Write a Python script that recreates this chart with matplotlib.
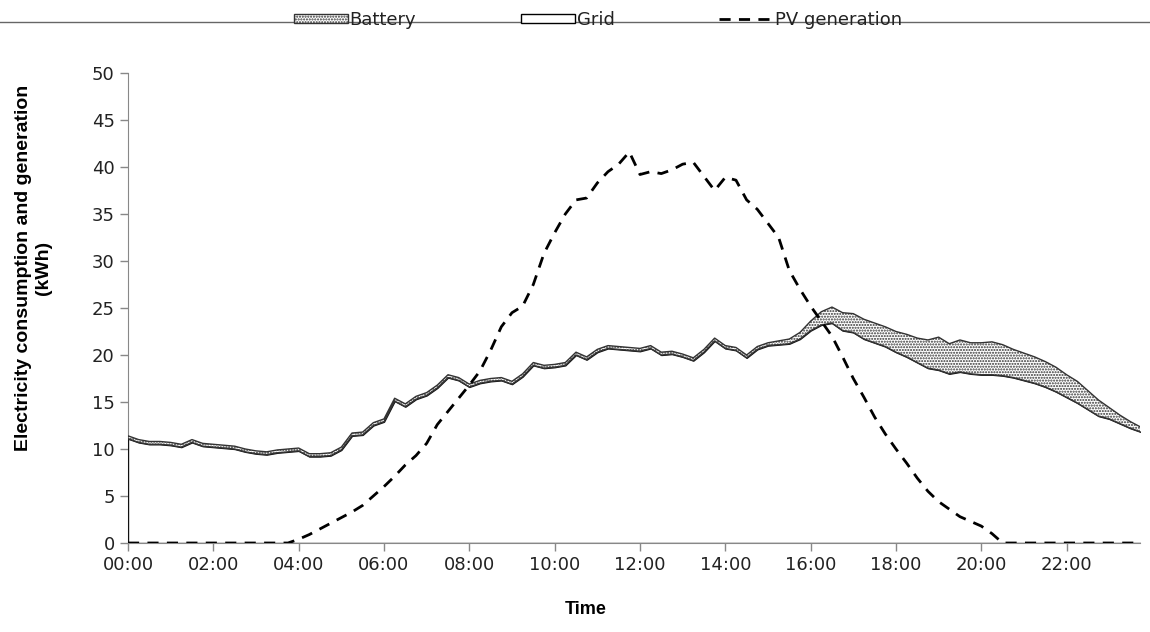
import numpy as np
import matplotlib
matplotlib.use('Agg')
import matplotlib.pyplot as plt
from matplotlib.patches import Patch
from matplotlib.lines import Line2D

# 15-minute readings over one day (hours from midnight)
hours = np.arange(96) * 0.25

grid = [11.1, 10.7, 10.5, 10.5, 10.4, 10.2, 10.7, 10.3, 10.2, 10.1, 10.0, 9.7,
        9.5, 9.4, 9.6, 9.7, 9.8, 9.2, 9.2, 9.3, 9.9, 11.4, 11.5, 12.5,
        12.9, 15.1, 14.5, 15.3, 15.7, 16.5, 17.6, 17.3, 16.6, 17.0, 17.2, 17.3,
        16.9, 17.7, 18.9, 18.6, 18.7, 18.9, 20.0, 19.5, 20.3, 20.7, 20.6, 20.5,
        20.4, 20.7, 20.0, 20.1, 19.8, 19.4, 20.3, 21.5, 20.7, 20.5, 19.7, 20.6,
        21.0, 21.1, 21.2, 21.7, 22.6, 23.2, 23.4, 22.6, 22.4, 21.7, 21.3, 20.9,
        20.3, 19.8, 19.2, 18.6, 18.4, 18.0, 18.2, 18.0, 17.9, 17.9, 17.8, 17.6,
        17.3, 17.0, 16.6, 16.1, 15.5, 14.9, 14.2, 13.5, 13.2, 12.7, 12.2, 11.8]

battery = [0.3] * 61 + [0.4, 0.5, 0.7, 1.0, 1.4, 1.7, 1.9, 2.0, 2.1, 2.1, 2.1,
                        2.2, 2.4, 2.6, 3.0, 3.5, 3.2, 3.4, 3.3, 3.4, 3.5, 3.3,
                        3.0, 2.9, 2.8, 2.7, 2.6, 2.4, 2.3, 2.0, 1.7, 1.2, 0.9,
                        0.7, 0.5]

pv = [0.0] * 16 + [0.4, 0.9, 1.5, 2.1, 2.7, 3.3, 4.0, 5.0,
                   6.0, 7.1, 8.3, 9.3, 10.6, 12.6, 14.0, 15.4, 16.8, 18.3, 20.5, 23.0,
                   24.5, 25.2, 27.5, 30.8, 33.0, 35.0, 36.5, 36.7, 38.3, 39.5, 40.3, 41.6,
                   39.2, 39.5, 39.3, 39.7, 40.3, 40.5, 39.0, 37.5, 38.9, 38.6, 36.5, 35.5,
                   34.0, 32.5, 29.0, 27.0, 25.2, 23.6, 22.0, 19.8, 17.5, 15.5, 13.4, 11.6,
                   10.0, 8.5, 6.9, 5.5, 4.4, 3.6, 2.8, 2.3, 1.8, 1.0, 0.0] + [0.0] * 13

tick_hours = list(range(0, 24, 2))
tick_labels = ['%02d:00' % h for h in tick_hours]

grid = np.array(grid)
battery = np.array(battery)
pv = np.array(pv)

plt.rcParams['font.family'] = ['DejaVu Sans']
plt.rcParams['hatch.linewidth'] = 1.0

fig = plt.figure(figsize=(11.5, 6.32), dpi=100)
ax = fig.add_axes([128 / 1150, 1 - 543 / 632, 1012 / 1150, 470 / 632])

# stacked areas: grid at the bottom, battery on top
ax.fill_between(hours, 0, grid, facecolor='white', edgecolor='#111111', linewidth=1.0, zorder=2)
ax.fill_between(hours, grid, grid + battery, facecolor='white', edgecolor='#333333',
                hatch='......', linewidth=1.0, zorder=3)
ax.plot(hours, pv, color='black', linestyle=(0, (4, 3)), linewidth=2.0, zorder=4)

ax.set_xlim(0, 23.72)
ax.set_ylim(0, 50)
ax.set_yticks(range(0, 51, 5))
ax.set_xticks(tick_hours)
ax.set_xticklabels(tick_labels)
ax.tick_params(axis='both', labelsize=13, colors='#888888', labelcolor='#222222',
               length=6, width=1, direction='out')
for s in ['top', 'right']:
    ax.spines[s].set_visible(False)
for s in ['left', 'bottom']:
    ax.spines[s].set_color('#888888')
# let the grid area's left edge show over the y axis
ax.spines['left'].set_zorder(1)

ax.set_ylabel('Electricity consumption and generation\n(kWh)', fontsize=14,
              fontweight='bold', family='Liberation Sans')
ax.yaxis.set_label_coords(-76 / 1012, (543 - 268) / 470)
ax.set_xlabel('Time', fontsize=13, fontweight='bold', family='Liberation Sans')
ax.xaxis.set_label_coords((586 - 128) / 1012, -58 / 470)

# line running across the top of the figure
fig.add_artist(Line2D([0, 1], [1 - 22 / 632, 1 - 22 / 632], transform=fig.transFigure,
                      color='#666666', linewidth=1))

handles = [Patch(facecolor='white', edgecolor='#333333', hatch='......', linewidth=1),
           Patch(facecolor='white', edgecolor='black', linewidth=1),
           Line2D([0], [0], color='black', linestyle=(0, (4, 3)), linewidth=2)]
fig.legend(handles, ['Battery', 'Grid', 'PV generation'], loc='center',
           bbox_to_anchor=(598 / 1150, 1 - 20 / 632), ncol=3, frameon=False,
           fontsize=13, handlelength=3, handleheight=0.45, handletextpad=0.1,
           columnspacing=5.8, labelcolor='#222222')

fig.savefig('out.png', dpi=100)
